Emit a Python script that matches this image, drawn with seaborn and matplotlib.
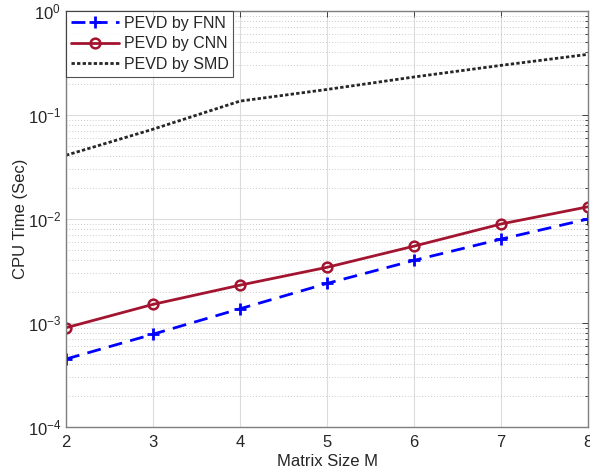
import numpy as np
import pandas as pd
import matplotlib
matplotlib.use("Agg")
import matplotlib.pyplot as plt
import matplotlib.ticker as mticker
import seaborn as sns

matrix_size = [2, 3, 4, 5, 6, 7, 8]
time_fnn = [4.5e-4, 7.8e-4, 1.37e-3, 2.4e-3, 4.0e-3, 6.4e-3, 1.0e-2]
time_cnn = [9.0e-4, 1.51e-3, 2.31e-3, 3.43e-3, 5.48e-3, 8.95e-3, 1.31e-2]
time_smd = [0.041, 0.073, 0.136, 0.176, 0.232, 0.30, 0.383]
labels = ["PEVD by FNN", "PEVD by CNN", "PEVD by SMD"]

df = pd.DataFrame({"M": matrix_size, "FNN": time_fnn, "CNN": time_cnn, "SMD": time_smd})

sns.set_theme(style="white")
plt.rcParams['font.family'] = ['Liberation Sans', 'DejaVu Sans']
plt.rcParams['mathtext.fontset'] = 'custom'
plt.rcParams['mathtext.rm'] = 'Liberation Sans'

fig = plt.figure(figsize=(5.9, 4.74), dpi=100)
ax = fig.add_axes([0.1119, 0.0992, 0.8847, 0.8776])

sns.lineplot(data=df, x="M", y="FNN", ax=ax, color="#0000FF", linestyle=(0, (5, 3)),
             linewidth=2, marker="+", markersize=9, markeredgewidth=2,
             markeredgecolor="#0000FF", label=labels[0])
sns.lineplot(data=df, x="M", y="CNN", ax=ax, color="#A2142F", linestyle="-",
             linewidth=2, marker="o", markersize=7, markeredgewidth=1.8,
             markerfacecolor="none", markeredgecolor="#A2142F", label=labels[1])
sns.lineplot(data=df, x="M", y="SMD", ax=ax, color="#262626", linestyle=(0, (1.2, 0.8)),
             linewidth=2, label=labels[2])

ax.set_yscale("log")
ax.set_xlim(2, 8)
ax.set_ylim(1e-4, 1e0)
ax.set_xticks(matrix_size)
ax.yaxis.set_major_locator(mticker.LogLocator(base=10, numticks=10))
ax.yaxis.set_minor_locator(mticker.LogLocator(base=10, subs=np.arange(2, 10), numticks=20))
ax.yaxis.set_minor_formatter(mticker.NullFormatter())

ax.grid(True, which="major", color="#dcdcdc", linewidth=0.8, linestyle="-")
ax.grid(True, which="minor", axis="y", color="#b8b8b8", linewidth=0.6, linestyle=(0, (1, 2.5)))

for s in ax.spines.values():
    s.set_color("#7f7f7f")
    s.set_linewidth(1.0)
ax.tick_params(which="both", direction="in", top=True, right=True, colors="#262626",
               labelsize=12, length=4, width=0.6)
ax.tick_params(which="minor", length=2)
ax.tick_params(axis="x", pad=6)

ax.set_xlabel("Matrix Size M", fontsize=12, color="#262626", labelpad=3)
ax.set_ylabel("CPU Time (Sec)", fontsize=12, color="#262626", labelpad=0)

leg = ax.legend(loc="upper left", fontsize=11.5, frameon=True, fancybox=False,
                borderaxespad=0, handlelength=3.0, handletextpad=0.3,
                borderpad=0.3, labelspacing=0.35)
leg.get_frame().set_edgecolor("#262626")
leg.get_frame().set_linewidth(0.8)

fig.savefig("out.png", dpi=100)
